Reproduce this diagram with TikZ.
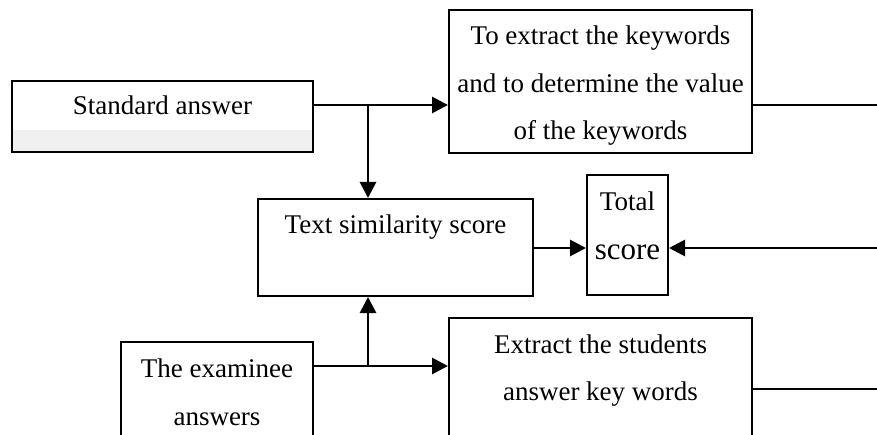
\documentclass[tikz,border=0pt]{standalone}
\usepackage{fontspec}
\setmainfont{Liberation Serif}
\usetikzlibrary{arrows.meta}
\definecolor{bandgray}{HTML}{F0F0F0}
\tikzset{
  box/.style={draw=black, line width=2pt, rectangle, inner sep=0pt},
  txt/.style={anchor=base, inner sep=0pt, font=\fontsize{27}{48}\selectfont},
  arr/.style={line width=2.8pt, -{Triangle[length=16pt,width=16pt]}},
  ln/.style={line width=2.4pt}
}
\begin{document}
\begin{tikzpicture}[x=1pt,y=-1pt]
\useasboundingbox (0,0) rectangle (877,435);
\clip (0,0) rectangle (877,435);
\fill[white] (0,0) rectangle (877,435);
% gray band in standard answer box
\fill[bandgray] (12,130) rectangle (313,152);
% boxes
\node[box, minimum width=301pt, minimum height=71pt] (std) at (162.5,116.5) {};
\node[box, minimum width=303pt, minimum height=143pt] (kw) at (600.5,81.5) {};
\node[box, minimum width=275pt, minimum height=97pt] (sim) at (395.5,247.5) {};
\node[box, minimum width=81pt, minimum height=120pt] (tot) at (627.5,235) {};
\node[box, minimum width=192pt, minimum height=120pt] (exam) at (217,402) {};
\node[box, minimum width=303pt, minimum height=140pt] (ext) at (600.5,388) {};
% texts
\node[txt] (t1) at (162.5,115) {Standard answer};
\node[txt] (t2) at (600.5,45) {To extract the keywords};
\node[txt] (t3) at (600.5,93) {and to determine the value};
\node[txt] (t4) at (600.5,140) {of the keywords};
\node[txt] (t5) at (395.5,234) {Text similarity score};
\node[txt] (t6) at (627.5,211) {Total};
\node[txt, font=\fontsize{31}{40}\selectfont] (t7) at (627.5,260) {score};
\node[txt] (t8) at (217,377) {The examinee};
\node[txt] (t9) at (217,425) {answers};
\node[txt] (t10) at (600.5,353) {Extract the students};
\node[txt] (t11) at (600.5,400) {answer key words};
% junctions and free ends
\coordinate (j1) at (368,105);
\coordinate (j2) at (368,366);
\coordinate (r1) at (877,105);
\coordinate (r2) at (877,248);
\coordinate (r3) at (877,389);
% connectors
\draw[arr] (std.east |- j1) -- (kw.west |- j1);
\draw[arr] (j1) -- (j1 |- sim.north);
\draw[ln] (kw.east |- r1) -- (r1);
\draw[arr] (sim.east |- r2) -- (tot.west |- r2);
\draw[arr] (r2) -- (tot.east |- r2);
\draw[arr] (exam.east |- j2) -- (ext.west |- j2);
\draw[arr] (j2) -- (j2 |- sim.south);
\draw[ln] (ext.east |- r3) -- (r3);
\end{tikzpicture}
\end{document}
